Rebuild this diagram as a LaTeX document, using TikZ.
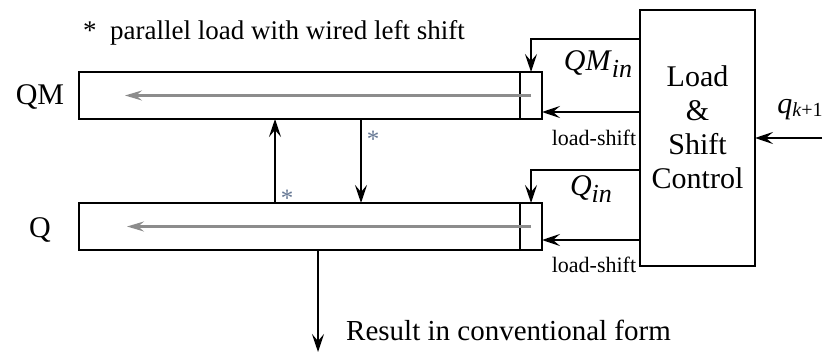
\documentclass[tikz,border=0pt]{standalone}
\usepackage{fontspec}
\setmainfont{Liberation Serif}
\usepackage{xcolor}
\definecolor{shiftgray}{HTML}{8C8C8C}
\definecolor{stargray}{HTML}{667894}
\usetikzlibrary{arrows.meta,positioning}
\tikzset{
  regnode/.style={
    rectangle, draw, line width=1.8pt, minimum height=47pt,
    inner sep=0pt, outer sep=0pt
  },
  ctrlnode/.style={
    rectangle, draw, line width=1.8pt, minimum width=115pt,
    minimum height=256pt, inner sep=0pt, outer sep=0pt
  },
  biglabel/.style={font=\fontsize{30}{34}\selectfont, align=center, inner sep=0pt},
  notelabel/.style={font=\fontsize{27}{30}\selectfont, inner sep=0pt},
  siglabel/.style={font=\fontsize{22}{24}\selectfont, inner sep=0pt},
  starlabel/.style={font=\fontsize{25}{26}\selectfont, text=stargray, inner sep=0pt},
  arrow/.style={-{Stealth[length=18pt,width=12pt,inset=7pt]}, line width=1.8pt},
  shiftarrow/.style={-{Stealth[length=17pt,width=10pt,inset=6pt]}, line width=2.4pt, draw=shiftgray}
}

\begin{document}
\begin{tikzpicture}[x=1pt,y=-1pt]
  \useasboundingbox (0,0) rectangle (825,353);

  % Note
  \node[notelabel, anchor=west] (note) at (83,33)
  {*~~parallel load with wired left shift};

  % Registers
  \node[regnode, minimum width=441pt] (qmreg) at (299.5,95.5) {};
  \node[regnode, minimum width=22pt] (qmlsb) at (531,95.5) {};
  \node[regnode, minimum width=441pt] (qreg) at (299.5,226.5) {};
  \node[regnode, minimum width=22pt] (qlsb) at (531,226.5) {};

  \node[biglabel] (qmname) at (40,97) {QM};
  \node[biglabel] (qname) at (40,230) {Q};

  % Control
  \node[ctrlnode] (ctrl) at (697.5,138) {};
  \node[biglabel] (ctrltext) at (697.5,127) {Load\\\&\\Shift\\Control};

  % Shift direction inside registers
  \draw[shiftarrow] (qmlsb.center) -- ([xshift=46pt]qmreg.west);
  \draw[shiftarrow] (qlsb.center) -- ([xshift=48pt]qreg.west);

  % Control lines
  \draw[arrow] (ctrl.west |- 0,39) -| (qmlsb.north);
  \draw[arrow] (ctrl.west |- 0,112) -- (qmlsb.east |- 0,112);
  \draw[arrow] (ctrl.west |- 0,170) -| (qlsb.north);
  \draw[arrow] (ctrl.west |- 0,240) -- (qlsb.east |- 0,240);

  \node[biglabel] (qmin) at (598,64)
  {\textit{QM}\raisebox{-7pt}{\fontsize{26}{28}\selectfont\textit{in}}};
  \node[biglabel] (qinlabel) at (591,189)
  {\textit{Q}\raisebox{-7pt}{\fontsize{26}{28}\selectfont\textit{in}}};
  \node[siglabel] (lsqm) at (594,138) {load-shift};
  \node[siglabel] (lsq) at (594,265) {load-shift};

  % Next quotient digit
  \coordinate (qnext) at (822,138);
  \draw[arrow] (qnext) -- (ctrl.east);
  \node[biglabel] (qk) at (800,110)
  {\textit{q}\raisebox{-3pt}{\fontsize{20}{22}\selectfont\textit{k}+1}};

  % Parallel load between registers
  \draw[arrow] (qreg.north -| 275,0) -- (qmreg.south -| 275,0);
  \draw[arrow, line width=2.4pt] (qmreg.south -| 361,0) -- (qreg.north -| 361,0);
  \node[starlabel] (starup) at (287,198) {*};
  \node[starlabel] (stardown) at (373,139) {*};

  % Result
  \coordinate (res) at (318,352);
  \draw[arrow] (qreg.south -| res) -- (res);
  \node[notelabel, anchor=west, font=\fontsize{29}{32}\selectfont] (reslabel) at (346,330)
  {Result in conventional form};

\end{tikzpicture}
\end{document}
